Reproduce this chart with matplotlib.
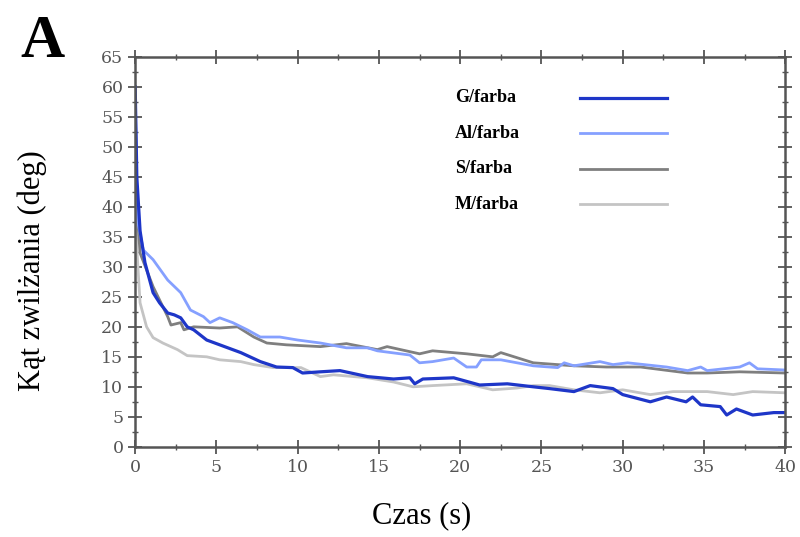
import numpy as np
import matplotlib
matplotlib.use('Agg')
import matplotlib.pyplot as plt
from matplotlib.ticker import MultipleLocator

# G/farba
g_t = [0, 0.1, 0.3, 0.6, 1.1, 1.5, 2.0, 2.4, 2.8, 3.2, 3.6, 4.4, 5.2, 6.5, 7.7, 8.7, 9.7, 10.3,
       11.4, 12.6, 14.3, 15.9, 16.9, 17.2, 17.7, 19.6, 21.2, 22.9, 24.5, 25.5, 27, 28, 29.4, 30,
       31.7, 32.7, 33.9, 34.3, 34.8, 36, 36.4, 37, 38, 39.3, 40]
g_v = [60, 45, 36, 30.7, 25.7, 24, 22.3, 22, 21.5, 20, 19.5, 17.8, 17, 15.7, 14.2, 13.3, 13.2, 12.3,
       12.5, 12.7, 11.7, 11.3, 11.5, 10.5, 11.3, 11.5, 10.3, 10.5, 10, 9.7, 9.2, 10.2, 9.7, 8.7,
       7.5, 8.3, 7.5, 8.3, 7.0, 6.7, 5.3, 6.3, 5.3, 5.7, 5.7]

# Al/farba
al_t = [0, 0.1, 0.5, 1.1, 2.0, 2.8, 3.4, 4.2, 4.6, 5.2, 6.0, 6.9, 7.7, 8.9, 10, 11.4, 13, 14.3,
        14.9, 16.9, 17.5, 18.3, 19.6, 20.4, 21.0, 21.3, 22.5, 24.5, 26, 26.4, 27, 28.6, 29.4, 30.3,
        32.7, 34, 34.8, 35.2, 37.2, 37.8, 38.3, 40]
al_v = [60, 38.3, 32.8, 31.2, 27.8, 25.7, 22.8, 21.7, 20.7, 21.5, 20.7, 19.5, 18.3, 18.3, 17.8, 17.3,
        16.5, 16.5, 16, 15.3, 14, 14.2, 14.8, 13.3, 13.3, 14.5, 14.5, 13.5, 13.2, 14, 13.5, 14.2,
        13.7, 14, 13.3, 12.7, 13.3, 12.7, 13.3, 14, 13, 12.8]

# S/farba
s_t = [0, 0.1, 0.3, 1.1, 2.0, 2.2, 2.8, 3.0, 3.6, 5.2, 6.3, 7.3, 8.1, 9.3, 11.4, 13, 14.9, 15.5,
       17.5, 18.3, 20.4, 22, 22.5, 24.5, 25.5, 27, 29, 31.1, 34, 35.2, 37.2, 40]
s_v = [58, 40, 32.3, 26.7, 21.7, 20.3, 20.7, 19.5, 20, 19.8, 20, 18.3, 17.3, 17, 16.7, 17.2, 16.2,
       16.7, 15.5, 16, 15.5, 15, 15.7, 14, 13.8, 13.5, 13.3, 13.3, 12.3, 12.3, 12.5, 12.3]

# M/farba
m_t = [0, 0.1, 0.3, 0.7, 1.1, 1.7, 2.6, 3.2, 4.4, 5.2, 6.5, 7.3, 8.5, 9.7, 10.2, 11.4, 12.2, 14.3,
       15.9, 17.1, 18.3, 20.4, 22, 23.5, 24.5, 25.5, 27, 28.6, 30, 31.7, 33.1, 35.2, 36.8, 38, 40]
m_v = [50, 33, 24, 20, 18.2, 17.3, 16.2, 15.2, 15, 14.5, 14.2, 13.7, 13.2, 13.2, 13.2, 11.7, 12, 11.5,
       10.8, 10, 10.2, 10.5, 9.5, 9.8, 10.2, 10.2, 9.5, 9.0, 9.5, 8.7, 9.2, 9.2, 8.7, 9.2, 9.0]

serif = 'Liberation Serif'

fig = plt.figure(figsize=(8, 5.37), dpi=100)
ax = fig.add_axes([0.169, 0.168, 0.8125, 0.726])

ax.plot(m_t, m_v, color='#c4c4c4', lw=2, label='M/farba')
ax.plot(s_t, s_v, color='#7f7f7f', lw=2, label='S/farba')
ax.plot(al_t, al_v, color='#85a0ff', lw=2, label='Al/farba')
ax.plot(g_t, g_v, color='#1e36c8', lw=2.3, label='G/farba')

ax.set_xlim(0, 40)
ax.set_ylim(0, 65)
ax.xaxis.set_major_locator(MultipleLocator(5))
ax.xaxis.set_minor_locator(MultipleLocator(2.5))
ax.yaxis.set_major_locator(MultipleLocator(5))
ax.yaxis.set_minor_locator(MultipleLocator(2.5))
ax.tick_params(which='both', direction='inout', top=True, right=True, color='#555555',
               labelsize=12.5, labelcolor='#555555')
ax.tick_params(which='major', length=10, width=1.3)
ax.tick_params(which='minor', length=5, width=1)
for lab in ax.get_xticklabels() + ax.get_yticklabels():
    lab.set_family('DejaVu Serif')
for sp in ax.spines.values():
    sp.set_color('#555555')
    sp.set_linewidth(1.8)

ax.set_ylabel('Kąt zwilżania (deg)', family=serif, fontsize=22)
ax.yaxis.set_label_coords(-0.135, 0.451)
ax.set_xlabel('Czas (s)', family=serif, fontsize=22)
ax.xaxis.set_label_coords(0.44, -0.14)

h, l = ax.get_legend_handles_labels()
h, l = h[::-1], l[::-1]
leg = ax.legend(h, l, loc='upper right', bbox_to_anchor=(0.818, 0.913), frameon=False,
                markerfirst=False, handlelength=4.8, handletextpad=1, labelspacing=1.03,
                borderpad=0, borderaxespad=0,
                prop={'family': serif, 'weight': 'bold', 'size': 13})
for t in leg.get_texts():
    t.set_alpha(0)

# labels left-aligned, lines right-aligned like the original
fig.canvas.draw()
for line, lab in zip(leg.get_lines(), l):
    bb = line.get_window_extent(fig.canvas.get_renderer())
    yc = ax.transAxes.inverted().transform((0, (bb.y0 + bb.y1) / 2))[1]
    ax.text(0.492, yc, lab, transform=ax.transAxes, va='center', ha='left',
            family=serif, weight='bold', fontsize=13)

fig.text(0.053, 0.894, 'A', family=serif, weight='bold', fontsize=44,
         ha='center', va='baseline')

plt.savefig('out.png', dpi=100)
